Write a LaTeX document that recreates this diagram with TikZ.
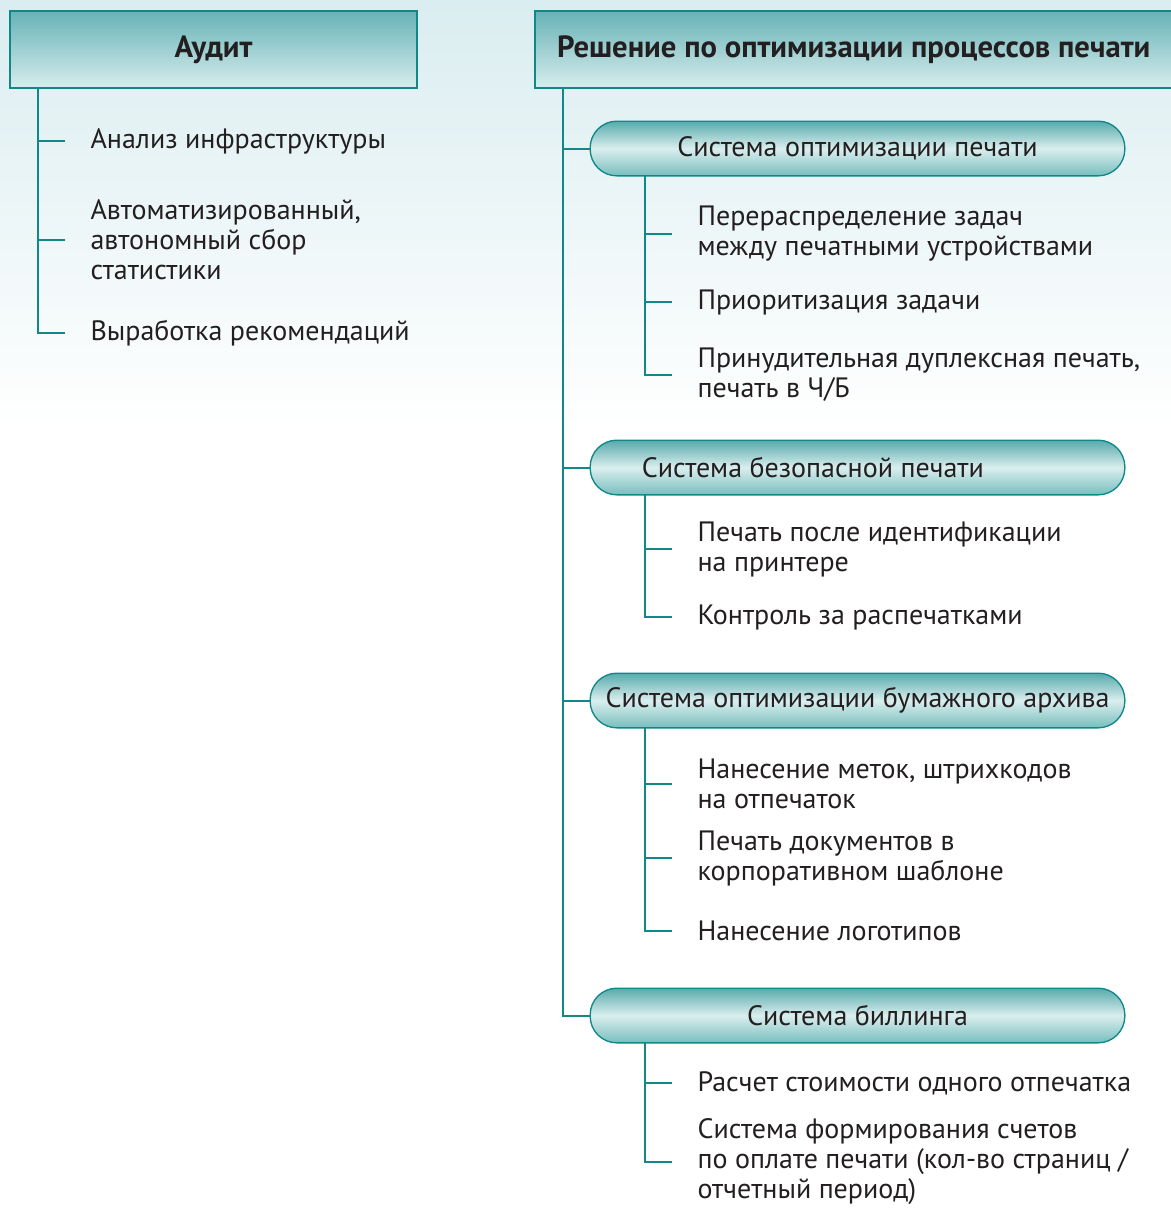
\documentclass[tikz,border=0pt]{standalone}
\usepackage{fontspec}
\setmainfont{PT Sans}
\usepackage{tikz}
\usetikzlibrary{positioning, calc}
\definecolor{branchcolor}{RGB}{16,136,136}
\definecolor{headtop}{RGB}{102,178,182}
\definecolor{headbot}{RGB}{216,237,237}
\definecolor{pilldark}{RGB}{88,170,172}
\definecolor{pilllight}{RGB}{218,238,238}
\definecolor{pillmid}{RGB}{120,190,190}
\definecolor{bgteal}{RGB}{218,237,240}
\definecolor{textcolor}{RGB}{35,31,32}

\begin{document}
\begin{tikzpicture}[
    x=0.75pt, y=-0.75pt,
    header/.style={draw=branchcolor, line width=1.5pt, top color=headtop, bottom color=headbot, minimum height=58pt, inner sep=0pt, font=\fontsize{23}{26}\selectfont\bfseries, text=textcolor},
    pill/.style={draw=branchcolor, line width=1pt, top color=pilldark, bottom color=pillmid, middle color=pilllight, minimum width=401pt, minimum height=41pt, rounded corners=20pt, inner sep=0pt, font=\fontsize{21}{22.5}\selectfont, text=textcolor},
    item/.style={anchor=west, inner xsep=19pt, inner ysep=0pt, align=left, font=\fontsize{21}{22.5}\selectfont, text=textcolor},
    branch/.style={draw=branchcolor, line width=1.5pt}
]
    % background
    \useasboundingbox (0,0) rectangle (1171,1208);
    \fill[white] (0,0) rectangle (1171,1208);
    \shade[top color=bgteal, bottom color=white] (0,0) rectangle (1171,430);

    % Audit column
    \node[header, minimum width=305pt] (audit) at (213.5,49.5) {Аудит};
    \coordinate (at) at (38,88);
    \node[item] (a1) at (65,141) {Анализ инфраструктуры};
    \node[item] (a2) at (65,240) {Автоматизированный,\\автономный сбор\\статистики};
    \node[item] (a3) at (65,333) {Выработка рекомендаций};
    \draw[branch] (at) |- (a3.west);
    \draw[branch] (a1.west -| at) -- (a1.west);
    \draw[branch] (a2.west -| at) -- (a2.west);

    % Solution column
    \node[header, minimum width=480pt] (sol) at (855,49.5) {Решение по оптимизации процессов печати\hspace*{2pt}};
    \coordinate (rt) at (563,88);
    \node[pill] (p1) at (857.5,148.5) {Система оптимизации печати};
    \node[pill] (p2) at (857.5,467.5) {Система безопасной печати\hspace*{67pt}};
    \node[pill] (p3) at (857.5,700.5) {Система оптимизации бумажного архива};
    \node[pill] (p4) at (857.5,1015.5) {Система биллинга};
    \draw[branch] (rt) |- (p4.west);
    \draw[branch] (p1.west -| rt) -- (p1.west);
    \draw[branch] (p2.west -| rt) -- (p2.west);
    \draw[branch] (p3.west -| rt) -- (p3.west);

    % print optimisation
    \coordinate (s1) at (645,176);
    \node[item] (i11) at (672,234) {Перераспределение задач\\между печатными устройствами};
    \node[item] (i12) at (672,302) {Приоритизация задачи};
    \node[item] (i13) at (672,375) {Принудительная дуплексная печать,\\печать в Ч/Б};
    \draw[branch] (s1) |- (i13.west);
    \draw[branch] (i11.west -| s1) -- (i11.west);
    \draw[branch] (i12.west -| s1) -- (i12.west);

    % secure printing
    \coordinate (s2) at (645,495);
    \node[item] (i21) at (672,549) {Печать после идентификации\\на принтере};
    \node[item] (i22) at (672,617) {Контроль за распечатками};
    \draw[branch] (s2) |- (i22.west);
    \draw[branch] (i21.west -| s2) -- (i21.west);

    % paper archive
    \coordinate (s3) at (645,728);
    \node[item] (i31) at (672,784) {Нанесение меток, штрихкодов\\на отпечаток};
    \node[item] (i32) at (672,858) {Печать документов в\\корпоративном шаблоне};
    \node[item] (i33) at (672,931) {Нанесение логотипов};
    \draw[branch] (s3) |- (i33.west);
    \draw[branch] (i31.west -| s3) -- (i31.west);
    \draw[branch] (i32.west -| s3) -- (i32.west);

    % billing
    \coordinate (s4) at (645,1043);
    \node[item] (i41) at (672,1083) {Расчет стоимости одного отпечатка};
    \node[item] (i42) at (672,1162) {Система формирования счетов\\по оплате печати (кол-во страниц /\\отчетный период)};
    \draw[branch] (s4) |- (i42.west);
    \draw[branch] (i41.west -| s4) -- (i41.west);
\end{tikzpicture}
\end{document}
